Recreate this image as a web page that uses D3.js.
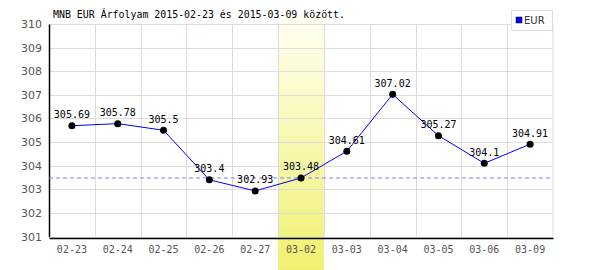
<!DOCTYPE html>
<html>
<head>
<meta charset="utf-8">
<script src="https://d3js.org/d3.v7.min.js"></script>
<style>
  body { margin: 0; background: #fff; }
  svg { display: block; }
</style>
</head>
<body>
<div id="chart"></div>
<script>
// chart data
var dates = ["02-23", "02-24", "02-25", "02-26", "02-27", "03-02", "03-03", "03-04", "03-05", "03-06", "03-09"];
var eurValues = [305.69, 305.78, 305.5, 303.4, 302.93, 303.48, 304.61, 307.02, 305.27, 304.1, 304.91];
var yTicks = [301, 302, 303, 304, 305, 306, 307, 308, 309, 310];
var highlightDate = "03-02";
var refValue = 303.48;
var title = "MNB EUR Árfolyam 2015-02-23 és 2015-03-09 között.";

var width = 600, height = 270;
var plotLeft = 49, plotRight = 553, plotTop = 24, plotBottom = 236.5;

var svg = d3.select("#chart").append("svg")
    .attr("width", width)
    .attr("height", height);

var x = d3.scaleBand().domain(dates).range([plotLeft, plotRight]);
var y = d3.scaleLinear().domain([301, 310]).range([plotBottom, plotTop]);

// gradient for highlighted day
var defs = svg.append("defs");
var grad = defs.append("linearGradient").attr("id", "hl")
    .attr("x1", 0).attr("y1", 0).attr("x2", 0).attr("y2", 1);
grad.append("stop").attr("offset", "0%").attr("stop-color", "#fffff0");
grad.append("stop").attr("offset", "100%").attr("stop-color", "#f0f070");

svg.append("rect")
    .attr("x", x(highlightDate))
    .attr("y", 17)
    .attr("width", x.bandwidth())
    .attr("height", height - 17)
    .attr("fill", "url(#hl)");

// grid
var grid = svg.append("g").attr("stroke", "#dcdcdc").attr("stroke-width", 1);
grid.selectAll("line.h").data(yTicks).enter().append("line")
    .attr("class", "h")
    .attr("x1", plotLeft).attr("x2", plotRight)
    .attr("y1", function(d) { return Math.round(y(d)) + 0.5; })
    .attr("y2", function(d) { return Math.round(y(d)) + 0.5; });
grid.selectAll("line.v").data(dates.slice(1).concat(["end"])).enter().append("line")
    .attr("class", "v")
    .attr("x1", function(d) { return d == "end" ? plotRight : Math.round(x(d)) + 0.5; })
    .attr("x2", function(d) { return d == "end" ? plotRight : Math.round(x(d)) + 0.5; })
    .attr("y1", plotTop).attr("y2", plotBottom);

// axes
var yAxis = d3.axisLeft(y).tickValues(yTicks).tickSize(0).tickPadding(7);
var gy = svg.append("g").attr("transform", "translate(" + plotLeft + ",0)").call(yAxis);
gy.select(".domain").attr("stroke", "#000").attr("stroke-width", 1.5);
gy.selectAll("text").attr("fill", "#555").style("font", "11px 'DejaVu Sans'");

var xAxis = d3.axisBottom(x).tickSize(0).tickPadding(8);
var gx = svg.append("g").attr("transform", "translate(0," + (plotBottom + 1.5) + ")").call(xAxis);
gx.select(".domain").attr("stroke", "#000").attr("stroke-width", 1.5);
gx.selectAll("text").attr("fill", "#555").style("font", "10px 'DejaVu Sans Mono'");

// reference dashed line
svg.append("line")
    .attr("x1", plotLeft).attr("x2", plotRight)
    .attr("y1", y(refValue)).attr("y2", y(refValue))
    .attr("stroke", "#8080ff")
    .attr("stroke-dasharray", "4,3");

// series line
var line = d3.line()
    .x(function(d, i) { return x(dates[i]) + x.bandwidth() / 2; })
    .y(function(d) { return y(d); });
svg.append("path").datum(eurValues)
    .attr("d", line)
    .attr("fill", "none")
    .attr("stroke", "#0000ff")
    .attr("stroke-width", 1);

// points
svg.selectAll("circle.pt").data(eurValues).enter().append("circle")
    .attr("class", "pt")
    .attr("cx", function(d, i) { return x(dates[i]) + x.bandwidth() / 2; })
    .attr("cy", function(d) { return y(d); })
    .attr("r", 3.5)
    .attr("fill", "#000");

// value labels
svg.selectAll("text.val").data(eurValues).enter().append("text")
    .attr("class", "val")
    .attr("x", function(d, i) { return x(dates[i]) + x.bandwidth() / 2; })
    .attr("y", function(d) { return y(d) - 7.5; })
    .attr("text-anchor", "middle")
    .style("font", "10px 'DejaVu Sans Mono'")
    .attr("fill", "#000")
    .text(function(d) { return d; });

// title
svg.append("text")
    .attr("x", 53).attr("y", 18)
    .style("font", "10px 'DejaVu Sans Mono'")
    .attr("textLength", 292)
    .attr("lengthAdjust", "spacingAndGlyphs")
    .attr("fill", "#000")
    .text(title);

// legend
var lg = svg.append("g");
lg.append("rect").attr("x", 511.5).attr("y", 10.5).attr("width", 41).attr("height", 20)
    .attr("fill", "#fff").attr("stroke", "#dcdcdc");
lg.append("rect").attr("x", 516).attr("y", 17).attr("width", 6).attr("height", 6)
    .attr("fill", "#0000ff").attr("stroke", "#000").attr("stroke-width", 0.5);
lg.append("text").attr("x", 524).attr("y", 24)
    .style("font", "10px 'DejaVu Sans'")
    .attr("fill", "#333")
    .text("EUR");
</script>
</body>
</html>
